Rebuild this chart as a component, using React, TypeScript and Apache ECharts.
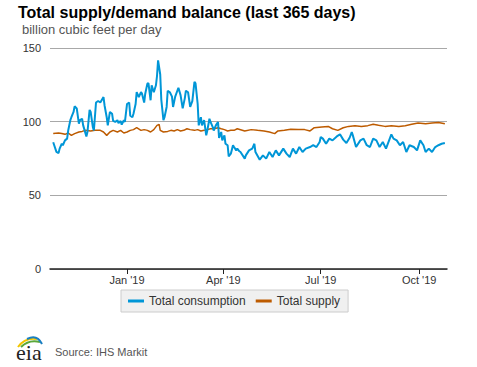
import React, { useEffect, useRef } from 'react';
import * as echarts from 'echarts';

const titleText = 'Total supply/demand balance (last 365 days)';
const unitText = 'billion cubic feet per day';
const sourceText = 'Source: IHS Markit';
const seriesNames = ['Total consumption', 'Total supply'];

const yTicks = [0, 50, 100, 150];
const xTickDates = ['2019-01-01', '2019-04-01', '2019-07-01', '2019-10-01'];
const xTickLabels = ["Jan '19", "Apr '19", "Jul '19", "Oct '19"];
const axisRange = ['2018-10-21', '2019-10-27'];

const consumption: [string, number][] = [
  ['2018-10-24', 86], ['2018-10-27', 79.5], ['2018-10-29', 78.7], ['2018-10-30', 81.7],
  ['2018-11-01', 85], ['2018-11-02', 84], ['2018-11-04', 87.3], ['2018-11-06', 88.5],
  ['2018-11-07', 94], ['2018-11-09', 101], ['2018-11-10', 103], ['2018-11-12', 106.6],
  ['2018-11-13', 110.4], ['2018-11-15', 109], ['2018-11-17', 98.6], ['2018-11-18', 101],
  ['2018-11-20', 102], ['2018-11-21', 97.5], ['2018-11-24', 90], ['2018-11-25', 93],
  ['2018-11-27', 108], ['2018-11-28', 106.6], ['2018-11-30', 96.4],
  ['2018-12-01', 94], ['2018-12-03', 113], ['2018-12-05', 114], ['2018-12-07', 113],
  ['2018-12-10', 116.7], ['2018-12-11', 111], ['2018-12-13', 103], ['2018-12-14', 97.5],
  ['2018-12-16', 106.6], ['2018-12-18', 105.4], ['2018-12-19', 100.5], ['2018-12-21', 99.8],
  ['2018-12-23', 101], ['2018-12-24', 99], ['2018-12-26', 100.5], ['2018-12-27', 98],
  ['2018-12-29', 101], ['2018-12-30', 99.8],
  ['2019-01-01', 112], ['2019-01-03', 113], ['2019-01-04', 104], ['2019-01-06', 103],
  ['2019-01-07', 105.4], ['2019-01-09', 112], ['2019-01-10', 120], ['2019-01-12', 116.7],
  ['2019-01-14', 120], ['2019-01-15', 119], ['2019-01-17', 113], ['2019-01-18', 119],
  ['2019-01-20', 125.8], ['2019-01-21', 126.2], ['2019-01-23', 114.5], ['2019-01-24', 124.7],
  ['2019-01-26', 120], ['2019-01-28', 124.7], ['2019-01-29', 131], ['2019-01-30', 141.6],
  ['2019-02-01', 132], ['2019-02-02', 115], ['2019-02-04', 101], ['2019-02-05', 103],
  ['2019-02-07', 110], ['2019-02-08', 121], ['2019-02-10', 120], ['2019-02-12', 117],
  ['2019-02-13', 110], ['2019-02-15', 117], ['2019-02-17', 121], ['2019-02-18', 123],
  ['2019-02-20', 118], ['2019-02-22', 109], ['2019-02-24', 116], ['2019-02-25', 121],
  ['2019-02-27', 120],
  ['2019-03-01', 110], ['2019-03-03', 114], ['2019-03-05', 127], ['2019-03-06', 126],
  ['2019-03-08', 112], ['2019-03-09', 97.5], ['2019-03-11', 103], ['2019-03-12', 97.5],
  ['2019-03-14', 101], ['2019-03-16', 90.7], ['2019-03-17', 94], ['2019-03-19', 102],
  ['2019-03-20', 99.8], ['2019-03-22', 96.4], ['2019-03-23', 94], ['2019-03-25', 97.5],
  ['2019-03-27', 99.8], ['2019-03-28', 89], ['2019-03-30', 93], ['2019-03-31', 87.3],
  ['2019-04-02', 90.7], ['2019-04-03', 85], ['2019-04-05', 84], ['2019-04-06', 76.5],
  ['2019-04-08', 78.3], ['2019-04-10', 84], ['2019-04-11', 82.8], ['2019-04-13', 80.5],
  ['2019-04-14', 81.7], ['2019-04-16', 79.9], ['2019-04-17', 79.4], ['2019-04-21', 74.9],
  ['2019-04-22', 77.1], ['2019-04-25', 80.5], ['2019-04-28', 81.7], ['2019-04-30', 85],
  ['2019-05-01', 79.4], ['2019-05-05', 74.2], ['2019-05-08', 77.1], ['2019-05-11', 74.9],
  ['2019-05-14', 79.4], ['2019-05-17', 76], ['2019-05-20', 80.5], ['2019-05-23', 77.1],
  ['2019-05-27', 81.7], ['2019-05-30', 78.3],
  ['2019-06-02', 76], ['2019-06-05', 81.7], ['2019-06-08', 78.3], ['2019-06-11', 82.8],
  ['2019-06-14', 79.4], ['2019-06-17', 81.7], ['2019-06-21', 82.8], ['2019-06-24', 84],
  ['2019-06-27', 82.8], ['2019-06-30', 86.2],
  ['2019-07-01', 89.6], ['2019-07-03', 88.5], ['2019-07-06', 85], ['2019-07-09', 88.5],
  ['2019-07-12', 87.3], ['2019-07-16', 90], ['2019-07-19', 91.4], ['2019-07-22', 87.8],
  ['2019-07-25', 85.5], ['2019-07-28', 89.1], ['2019-07-30', 93], ['2019-07-31', 90.7],
  ['2019-08-03', 82.8], ['2019-08-07', 87.3], ['2019-08-10', 88.5], ['2019-08-13', 84],
  ['2019-08-16', 82.8], ['2019-08-19', 88.5], ['2019-08-22', 87.3], ['2019-08-25', 82.8],
  ['2019-08-28', 86.2], ['2019-08-31', 81.7],
  ['2019-09-05', 91.4], ['2019-09-07', 88.5], ['2019-09-10', 87.3], ['2019-09-13', 84],
  ['2019-09-16', 86.2], ['2019-09-19', 79.4], ['2019-09-22', 84], ['2019-09-26', 82.8],
  ['2019-09-29', 80.5],
  ['2019-10-02', 87.3], ['2019-10-05', 84], ['2019-10-07', 79.4], ['2019-10-10', 81.7],
  ['2019-10-13', 79.4], ['2019-10-16', 82.8], ['2019-10-19', 84], ['2019-10-22', 85],
  ['2019-10-25', 85.5],
];

const supply: [string, number][] = [
  ['2018-10-24', 91.9], ['2018-10-29', 92.3], ['2018-11-01', 91.9], ['2018-11-04', 91.4],
  ['2018-11-07', 92.3], ['2018-11-10', 90.7], ['2018-11-13', 91.9], ['2018-11-17', 93],
  ['2018-11-20', 93.4], ['2018-11-23', 94.1], ['2018-11-28', 93.7], ['2018-12-02', 94.1],
  ['2018-12-07', 94.1], ['2018-12-10', 93], ['2018-12-13', 90.7], ['2018-12-16', 93],
  ['2018-12-19', 94.1], ['2018-12-23', 93], ['2018-12-26', 94.1], ['2018-12-29', 92.3],
  ['2019-01-01', 93], ['2019-01-04', 94.1], ['2019-01-07', 94.6], ['2019-01-10', 95.9],
  ['2019-01-14', 94.1], ['2019-01-17', 94.6], ['2019-01-20', 94.1], ['2019-01-23', 93],
  ['2019-01-26', 94.6], ['2019-01-29', 97.5], ['2019-01-31', 98.2], ['2019-02-01', 94.1],
  ['2019-02-04', 93], ['2019-02-08', 93.4], ['2019-02-11', 94.1], ['2019-02-14', 93.7],
  ['2019-02-17', 94.6], ['2019-02-20', 93.7], ['2019-02-23', 94.1], ['2019-02-26', 95.2],
  ['2019-03-01', 94.6], ['2019-03-05', 94.1], ['2019-03-08', 94.6], ['2019-03-11', 93.7],
  ['2019-03-14', 94.1], ['2019-03-17', 94.6], ['2019-03-20', 95.2], ['2019-03-23', 95.2],
  ['2019-03-27', 95.9], ['2019-03-30', 95.2], ['2019-04-02', 94.6], ['2019-04-05', 93.7],
  ['2019-04-08', 94.1], ['2019-04-11', 94.1], ['2019-04-14', 95.2], ['2019-04-21', 93.7],
  ['2019-04-27', 94.6], ['2019-05-03', 94.1], ['2019-05-09', 93.7], ['2019-05-14', 93],
  ['2019-05-19', 91.9], ['2019-05-22', 93.7], ['2019-05-28', 94.1], ['2019-06-03', 94.8],
  ['2019-06-10', 94.6], ['2019-06-16', 94.6], ['2019-06-21', 93.7], ['2019-06-25', 95.9],
  ['2019-07-02', 96.4], ['2019-07-08', 96.8], ['2019-07-12', 95.2], ['2019-07-17', 94.1],
  ['2019-07-22', 95.9], ['2019-07-27', 96.8], ['2019-08-02', 97.3], ['2019-08-08', 96.8],
  ['2019-08-14', 97.3], ['2019-08-19', 98.2], ['2019-08-24', 97.5], ['2019-08-30', 96.8],
  ['2019-09-05', 97.3], ['2019-09-12', 96.8], ['2019-09-18', 97.3], ['2019-09-24', 98.2],
  ['2019-09-30', 99.1], ['2019-10-07', 98.6], ['2019-10-13', 99.1], ['2019-10-19', 99.5],
  ['2019-10-25', 98.6],
];

const FONT = '"Liberation Sans", Arial, sans-serif';

function ts(s: string): number {
  const [y, m, d] = s.split('-').map(Number);
  return Date.UTC(y, m - 1, d);
}

export default function App() {
  const ref = useRef<HTMLDivElement>(null);
  useEffect(() => {
    if (!ref.current) return;
    const chart = echarts.init(ref.current, null, { renderer: 'svg' });
    const tickTs = xTickDates.map(ts);
    chart.setOption({
      animation: false,
      textStyle: { fontFamily: FONT },
      title: [
        {
          text: titleText, left: 18, top: 4, padding: 0,
          textStyle: { fontFamily: FONT, fontSize: 16, fontWeight: 'bold', color: '#000' },
        },
        {
          text: unitText, left: 22, top: 23, padding: 0,
          textStyle: { fontFamily: FONT, fontSize: 13, fontWeight: 'normal', color: '#555' },
        },
      ],
      legend: {
        left: 121, top: 290,
        padding: [5, 8, 5, 7],
        itemGap: 10, itemWidth: 16, itemHeight: 3,
        icon: 'rect',
        backgroundColor: '#f0f0f0', borderColor: '#cccccc', borderWidth: 1,
        textStyle: { fontFamily: FONT, fontSize: 12, color: '#333' },
        data: seriesNames,
      },
      grid: { left: 50, right: 30, top: 48, bottom: 98 },
      xAxis: {
        type: 'value',
        min: ts(axisRange[0]), max: ts(axisRange[1]),
        axisLine: { show: true, lineStyle: { color: '#222', width: 1.5 } },
        axisTick: { show: true, customValues: tickTs, length: 5, lineStyle: { color: '#222' } },
        axisLabel: {
          customValues: tickTs, color: '#333', fontSize: 11, margin: 5, fontFamily: FONT,
          formatter: (v: number) => {
            const i = tickTs.indexOf(Number(v));
            return i >= 0 ? xTickLabels[i] : '';
          },
        },
        splitLine: { show: false },
      },
      yAxis: {
        type: 'value', min: yTicks[0], max: yTicks[yTicks.length - 1], interval: 50,
        axisLine: { show: false }, axisTick: { show: false },
        axisLabel: { color: '#333', fontSize: 11, margin: 9, fontFamily: FONT },
        splitLine: { lineStyle: { color: '#a8a8a8', width: 1 } },
      },
      series: [
        {
          name: seriesNames[0], type: 'line', showSymbol: false,
          data: consumption.map(([d, v]) => [ts(d), v]),
          lineStyle: { color: '#0096d7', width: 2 }, itemStyle: { color: '#0096d7' }, z: 3,
        },
        {
          name: seriesNames[1], type: 'line', showSymbol: false,
          data: supply.map(([d, v]) => [ts(d), v]),
          lineStyle: { color: '#bd5b00', width: 1.5 }, itemStyle: { color: '#bd5b00' }, z: 2,
        },
      ],
      graphic: [
        { type: 'bezierCurve', shape: { x1: 18, y1: 347, cpx1: 25, cpy1: 337, x2: 37, y2: 339 },
          style: { stroke: '#f2c500', lineWidth: 2, fill: 'none' } },
        { type: 'bezierCurve', shape: { x1: 21, y1: 347, cpx1: 29, cpy1: 339, x2: 40, y2: 342 },
          style: { stroke: '#5aa83a', lineWidth: 2, fill: 'none' } },
        { type: 'bezierCurve', shape: { x1: 27, y1: 339, cpx1: 37, cpy1: 334, x2: 42, y2: 344 },
          style: { stroke: '#1a7fc1', lineWidth: 2, fill: 'none' } },
        { type: 'text', x: 16, y: 352,
          style: { text: 'eia', font: '22px "Liberation Serif", serif', fill: '#222', verticalAlign: 'middle' } },
        { type: 'text', x: 55, y: 352,
          style: { text: sourceText, font: '11px ' + FONT, fill: '#555', verticalAlign: 'middle' } },
      ],
    });
    return () => chart.dispose();
  }, []);
  return <div ref={ref} style={{ width: 477, height: 367, position: 'absolute', left: 0, top: 0 }} />;
}
